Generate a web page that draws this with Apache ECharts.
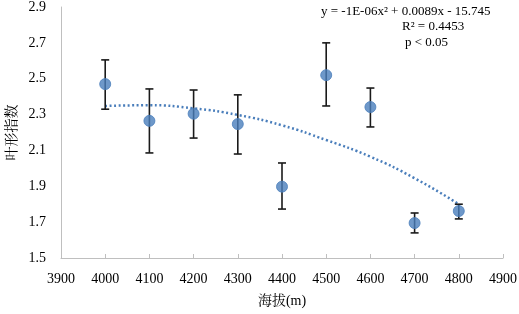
<!DOCTYPE html>
<html>
<head>
<meta charset="utf-8">
<script src="https://cdn.jsdelivr.net/npm/echarts@6/dist/echarts.min.js"></script>
<style>
html,body{margin:0;padding:0;background:#fff}
#main{width:519px;height:314px}
</style>
</head>
<body>
<div id="main"></div>
<script>
var altitude=[4000,4100,4200,4300,4400,4500,4600,4700,4800]
var meanVal=[2.47,2.265,2.305,2.247,1.898,2.52,2.342,1.695,1.762]
var errHigh=[2.605,2.443,2.437,2.41,2.03,2.70,2.448,1.751,1.80]
var errLow=[2.33,2.086,2.169,2.08,1.773,2.348,2.231,1.64,1.718]
var trendVal=[2.348,2.352,2.335,2.298,2.24,2.158,2.065,1.945,1.80]

var font='"Liberation Serif","Times New Roman",serif'
var chart=echarts.init(document.getElementById('main'))

var pts=[],bars=[],trend=[]
for(var i=0;i<altitude.length;i++){
	pts.push([altitude[i],meanVal[i]])
	bars.push([altitude[i],errLow[i],errHigh[i]])
	trend.push([altitude[i],trendVal[i]])
}

var option={
	animation:false,
	grid:{left:61,right:16,top:7,bottom:56,outerBoundsMode:'none',containLabel:false},
	xAxis:{
		type:'value',min:3900,max:4900,interval:100,
		name:'海拔(m)',nameLocation:'middle',nameGap:36,
		nameTextStyle:{fontFamily:'"Liberation Serif","Noto Serif CJK SC","Noto Sans CJK SC",serif',fontSize:14,color:'#000'},
		axisLine:{lineStyle:{color:'#bfbfbf',width:1}},
		axisTick:{show:true,inside:true,length:4,lineStyle:{color:'#bfbfbf'}},
		axisLabel:{fontFamily:font,fontSize:14,color:'#000',margin:14,
			formatter:function(v){return String(v)}},
		splitLine:{show:false}
	},
	yAxis:{
		type:'value',min:1.5,max:2.9,interval:0.2,
		name:'叶形指数',nameLocation:'middle',nameGap:42,
		nameTextStyle:{fontFamily:'"Noto Serif CJK SC","Noto Sans CJK SC",serif',fontSize:14,color:'#000'},
		axisLine:{show:true,lineStyle:{color:'#bfbfbf',width:1}},
		axisTick:{show:false},
		axisLabel:{fontFamily:font,fontSize:14,color:'#000',margin:15,
			formatter:function(v){return v.toFixed(1)}},
		splitLine:{show:false}
	},
	series:[
		{
			type:'line',data:trend,smooth:true,symbol:'none',
			lineStyle:{color:'#4a7ebb',width:2.5,type:[2,2.5]},
			z:2
		},
		{
			type:'custom',data:bars,z:3,
			renderItem:function(params,api){
				var x=api.value(0)
				var lo=api.coord([x,api.value(1)])
				var hi=api.coord([x,api.value(2)])
				var w=4
				var st={stroke:'#1a1a1a',lineWidth:1.6}
				return {type:'group',children:[
					{type:'line',shape:{x1:lo[0],y1:lo[1],x2:hi[0],y2:hi[1]},style:st},
					{type:'line',shape:{x1:lo[0]-w,y1:lo[1],x2:lo[0]+w,y2:lo[1]},style:st},
					{type:'line',shape:{x1:hi[0]-w,y1:hi[1],x2:hi[0]+w,y2:hi[1]},style:st}
				]}
			}
		},
		{
			type:'scatter',data:pts,symbol:'circle',symbolSize:11,
			itemStyle:{color:'#4a7ebb',borderColor:'#4a7ebb'},
			z:4
		}
	],
	graphic:[
		{type:'text',left:321,top:5,style:{text:'y = -1E-06x² + 0.0089x - 15.745',font:'13px '+font,fill:'#000'}},
		{type:'text',left:402,top:20,style:{text:'R² = 0.4453',font:'13px '+font,fill:'#000'}},
		{type:'text',left:405,top:36,style:{text:'p < 0.05',font:'13px '+font,fill:'#000'}}
	]
}
chart.setOption(option)
</script>
</body>
</html>
